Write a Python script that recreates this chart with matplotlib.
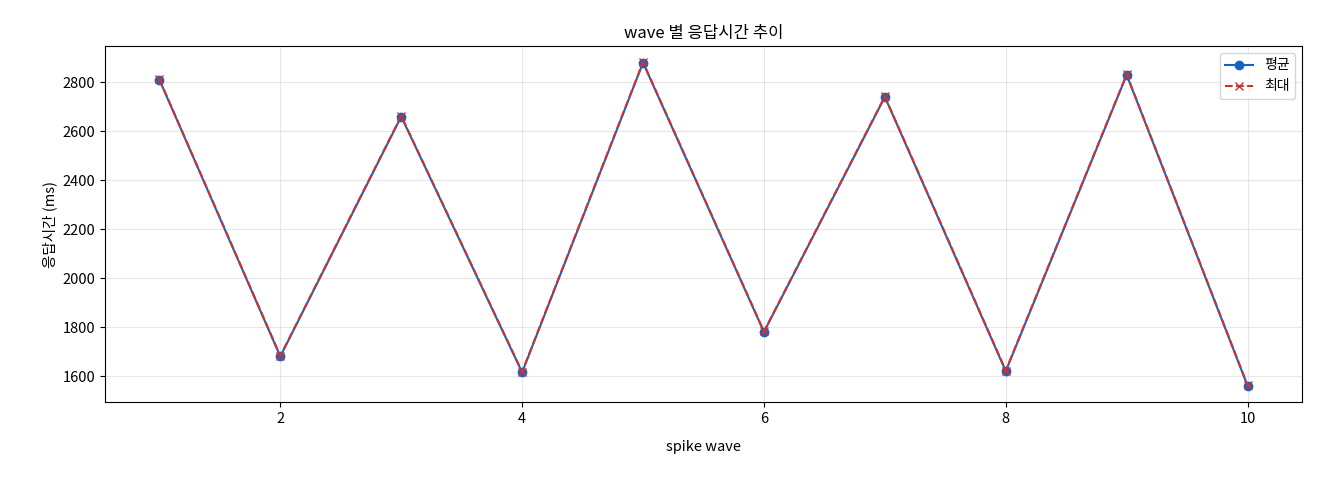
import matplotlib
matplotlib.use("Agg")
import matplotlib.pyplot as plt

plt.rcParams['font.family'] = ['Noto Sans CJK KR', 'DejaVu Sans']
plt.rcParams['axes.unicode_minus'] = False

waves = [1, 2, 3, 4, 5, 6, 7, 8, 9, 10]
avg_ms = [2810, 1680, 2660, 1615, 2880, 1780, 2740, 1620, 2830, 1560]
max_ms = [2812, 1682, 2662, 1617, 2882, 1782, 2742, 1622, 2832, 1562]

fig = plt.figure(figsize=(13.2, 4.8), dpi=100)
ax = fig.add_axes([105/1320, 78/480, 1197/1320, 356/480])
ax.plot(waves, avg_ms, '-o', color='#1565c0', label='평균', markersize=6)
ax.plot(waves, max_ms, '--x', color='#d32f2f', label='최대', markersize=6)
ax.set_title('wave 별 응답시간 추이', fontsize=12)
ax.set_xlabel('spike wave', fontsize=10.5, labelpad=10)
ax.set_ylabel('응답시간 (ms)', fontsize=10.5)
ax.tick_params(labelsize=10.5)
ax.grid(True, alpha=0.3)
ax.legend(loc='upper right', fontsize=10)
fig.savefig('out.png', dpi=100)
